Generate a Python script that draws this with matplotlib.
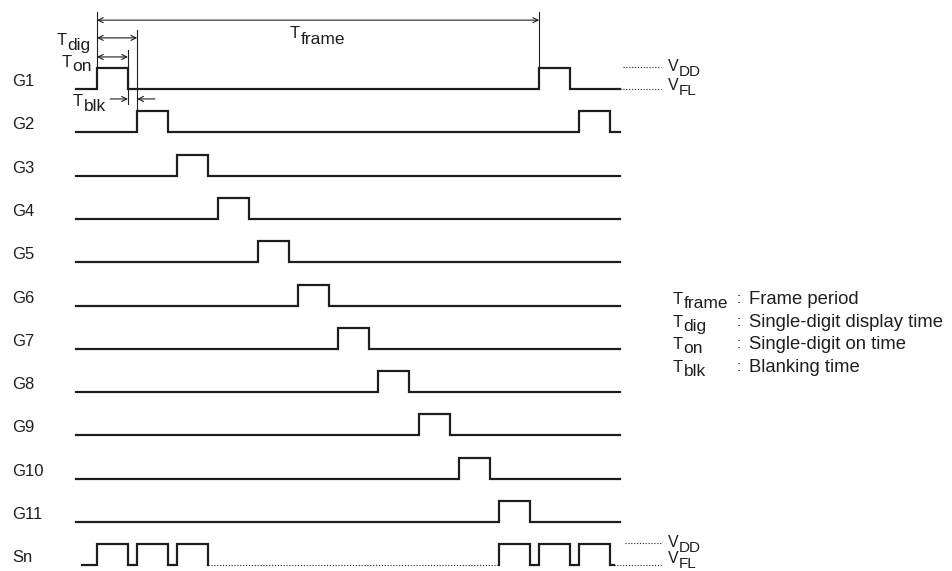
import numpy as np
import matplotlib
matplotlib.use('Agg')
import matplotlib.pyplot as plt

plt.rcParams['font.family'] = ['Liberation Sans', 'DejaVu Sans']

# timing data, in units of one digit period (T_dig = 1)
rows = ['G1', 'G2', 'G3', 'G4', 'G5', 'G6', 'G7', 'G8', 'G9', 'G10', 'G11', 'Sn']
n_digits = 11
t_dig = 1.0
t_on = 0.77
t_start = -0.52
t_end = 13.0
sn_first = [0, 1, 2]
sn_last = [10, 11, 12]
legend_keys = ['frame', 'dig', 'on', 'blk']
legend_text = ['Frame period', 'Single-digit display time',
               'Single-digit on time', 'Blanking time']

high = 0.485
col = '#1e1e1e'
dot = (0, (1, 1.6))
px_x = 40.2   # pixels per digit period
px_y = 43.3   # pixels per row

fig = plt.figure(figsize=(9.52, 5.71), dpi=100)
ax = fig.add_axes([0, 0, 1, 1])
ax.set_xlim(-2.413, 21.27)
ax.set_ylim(-11.13, 2.055)
ax.axis('off')


def wave(starts, a, b, base):
	xs = [a]
	ys = [base]
	for s in starts:
		xs += [s, s, s + t_on, s + t_on]
		ys += [base, base + high, base + high, base]
	xs.append(b)
	ys.append(base)
	return xs, ys


def tlabel(x, y, main, sub, size=12, subsize=12, dy=5):
	# main letter on baseline y, subscript same-ish size dropped by dy pixels
	t = ax.text(x, y, main, fontsize=size, va='baseline', ha='left', color=col)
	ax.annotate(sub, xy=(1, y), xycoords=(t, 'data'), xytext=(0.5, -dy),
	            textcoords='offset pixels', fontsize=subsize, va='baseline',
	            ha='left', color=col)


# gate lines G1..G11
for k in range(n_digits):
	base = -k
	starts = [s for s in (k * t_dig, (k + n_digits) * t_dig) if s + t_on < t_end]
	xs, ys = wave(starts, t_start, t_end, base)
	ax.plot(xs, ys, color=col, lw=1.6, solid_joinstyle='miter')
	ax.text(-2.11, base + 3 / px_y, rows[k], fontsize=12, va='baseline', ha='left', color=col)

# segment line Sn
sn_base = -n_digits
xs, ys = wave(sn_first, t_start + 0.15, sn_first[-1] + t_on, sn_base)
ax.plot(xs, ys, color=col, lw=1.6, solid_joinstyle='miter')
ax.plot([sn_first[-1] + t_on, sn_last[0]], [sn_base, sn_base], color=col, lw=0.8, ls=dot)
xs, ys = wave(sn_last, sn_last[0], sn_last[-1] + t_on + 0.08, sn_base)
ax.plot(xs, ys, color=col, lw=1.6, solid_joinstyle='miter')
ax.text(-2.11, sn_base + 3 / px_y, rows[-1], fontsize=12, va='baseline', ha='left', color=col)

# V_DD / V_FL level marks
for base, x_dd, x_fl, sh in [(0, 13.08, t_end, 0), (sn_base, 13.13, sn_last[-1] + t_on + 0.08, 3)]:
	ax.plot([x_dd, 14.02], [base + high + 0.03, base + high + 0.03], color=col, lw=0.8, ls=dot)
	ax.plot([x_fl, 14.02], [base, base], color=col, lw=0.8, ls=dot)
	tlabel(14.2, base + high + 0.03 - 4 / px_y, 'V', 'DD', size=11.5, subsize=11)
	tlabel(14.2, base - (1 - sh) / px_y, 'V', 'FL', size=11.5, subsize=11)

# extension lines
ext = dict(color=col, lw=0.8)
ax.plot([0, 0], [1.78, high], **ext)
ax.plot([n_digits * t_dig] * 2, [1.78, high], **ext)
ax.plot([t_dig, t_dig], [1.36, -1 + high], **ext)
ax.plot([t_on, t_on], [0.9, -0.35], **ext)

arr = dict(arrowstyle='<->', color=col, lw=0.8, shrinkA=0, shrinkB=0, mutation_scale=9)
ax.annotate('', xy=(0, 1.59), xytext=(n_digits * t_dig, 1.59), arrowprops=arr)
ax.annotate('', xy=(0, 1.18), xytext=(t_dig, 1.18), arrowprops=arr)
ax.annotate('', xy=(0, 0.74), xytext=(t_on, 0.74), arrowprops=arr)
one = dict(arr, arrowstyle='->')
ax.annotate('', xy=(t_on, -0.23), xytext=(0.33, -0.23), arrowprops=one)
ax.annotate('', xy=(t_dig, -0.23), xytext=(1.44, -0.23), arrowprops=one)

tlabel(4.8, 1.18, 'T', 'frame', size=12, subsize=12.5, dy=6)
tlabel(-1.0, 1.02, 'T', 'dig', size=12, subsize=12.5, dy=5)
tlabel(-0.87, 0.51, 'T', 'on', size=12, subsize=12.5, dy=4)
tlabel(-0.6, -0.39, 'T', 'blk', size=12, subsize=12.5, dy=5)

# legend block
for i, (key, txt) in enumerate(zip(legend_keys, legend_text)):
	y = (89 - 304 - i * 22.6) / px_y
	tlabel(14.33, y, 'T', key, size=12, subsize=12.5, dy=4)
	ax.text(15.92, y + 1 / px_y, ':', fontsize=11, va='baseline', color=col)
	ax.text(16.22, y, txt, fontsize=13.3, va='baseline', color=col)

fig.savefig('out.png', dpi=100, facecolor='white')
